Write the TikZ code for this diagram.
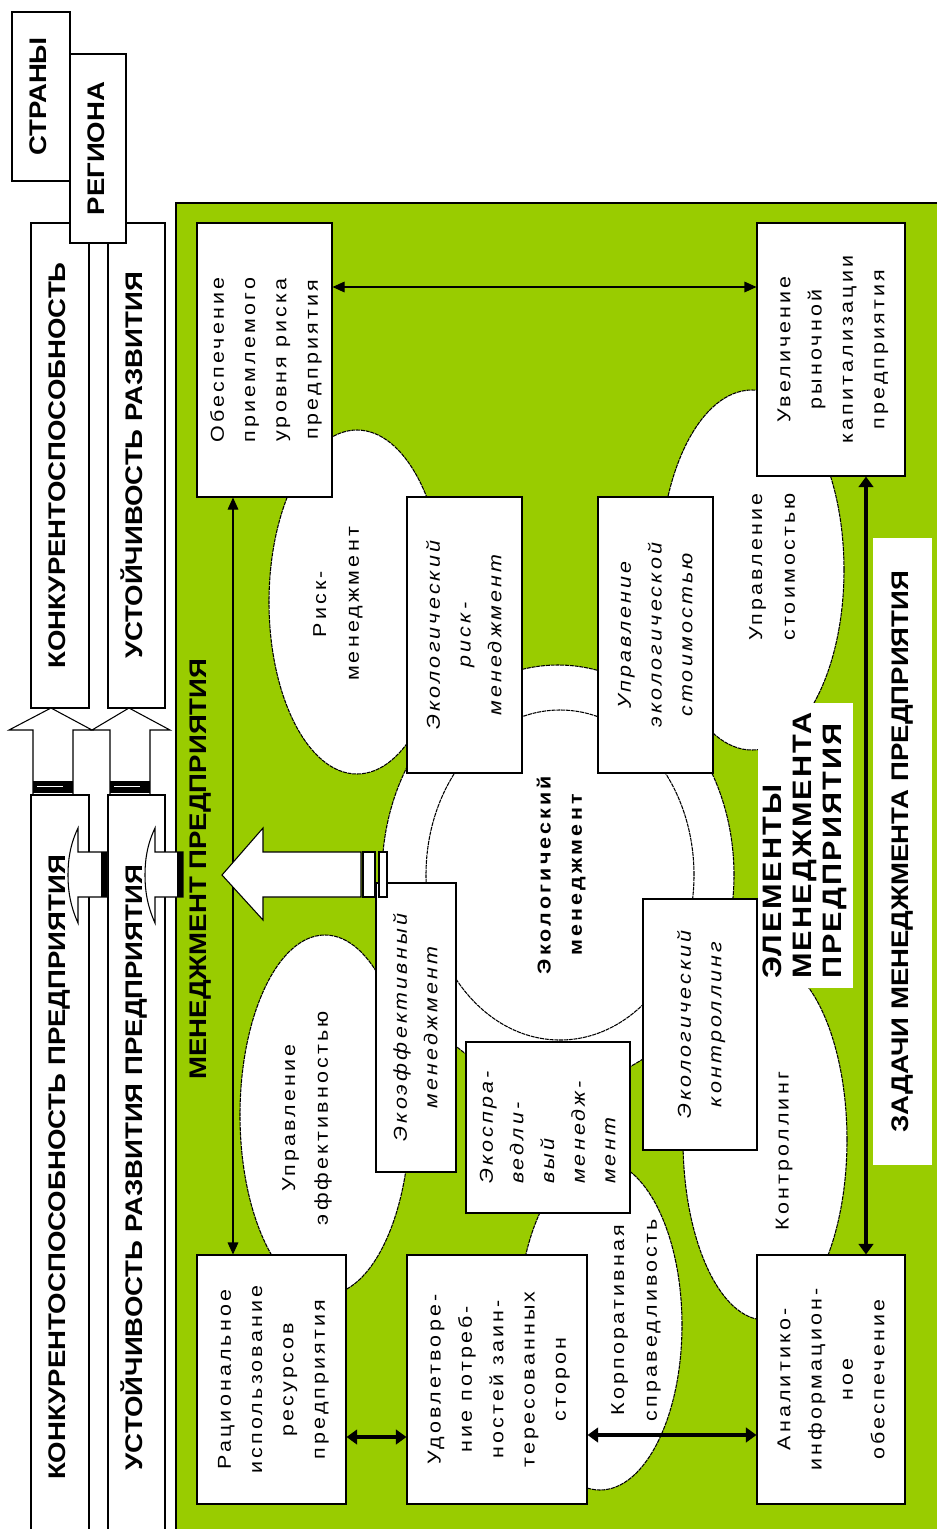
\documentclass[tikz,border=0pt]{standalone}
\usepackage{fontspec}
\setmainfont{Liberation Sans}[FakeStretch=1.15]
\newfontfamily\tracked{Liberation Sans}[FakeStretch=1.15,LetterSpace=17]
\newfontfamily\wide{Liberation Sans}[FakeStretch=1.15,LetterSpace=8]
\usepackage{graphicx}
\usetikzlibrary{positioning,arrows.meta,shapes.geometric}
\definecolor{mgGreen}{RGB}{153,204,0}
\newcommand{\rotc}[1]{\rotatebox{90}{\begin{tabular}{@{}c@{}}#1\end{tabular}}}
\newcommand{\rotl}[1]{\rotatebox{90}{\begin{tabular}{@{}l@{}}#1\end{tabular}}}

\tikzset{
  wh/.style 2 args={minimum width=#1*0.75pt, minimum height=#2*0.75pt},
  box/.style={draw, fill=white, line width=0.8pt, inner sep=0pt,
    font=\tracked\fontsize{14}{23.5}\selectfont},
  ibox/.style={box, font=\tracked\itshape\fontsize{14}{23}\selectfont},
  head/.style={font=\bfseries\fontsize{18}{22.5}\selectfont},
  strip/.style={draw, fill=white, line width=0.8pt, inner sep=0pt, head},
  cloudy/.style={ellipse, draw, fill=white, line width=0.8pt,
    dash pattern=on 3pt off 0.6pt, inner sep=0pt},
  ctext/.style={inner sep=0pt, font=\tracked\fontsize{14}{24.5}\selectfont},
  tag/.style={fill=white, inner sep=0pt, head},
  dblthin/.style={{Triangle[length=9pt,width=8pt]}-{Triangle[length=9pt,width=8pt]}, line width=0.8pt},
  dblthick/.style={{Triangle[length=8pt,width=11pt]}-{Triangle[length=8pt,width=11pt]}, line width=2.6pt},
  blockarr/.style={draw, fill=white, line width=0.8pt},
}

\begin{document}
\begin{tikzpicture}[x=0.75pt, y=-0.75pt]
  \useasboundingbox (0,0) rectangle (937,1529);
  \clip (0,0) rectangle (937,1529);

  % green management field
  \draw[fill=mgGreen, line width=0.9pt] (176,203) rectangle (945,1540);

  % clouds of management functions
  \node[cloudy, wh={176}{344}] (riskc) at (357,602) {};
  \node[cloudy, wh={184}{360}] (stoimc) at (752,570) {};
  \node[cloudy, wh={170}{360}] (effc) at (325,1115) {};
  \node[cloudy, wh={164}{330}] (korpc) at (600,1325) {};
  \node[cloudy, wh={164}{360}] (kontrc) at (765,1140) {};

  \node[ctext] (riskt) at (336,604) {\rotc{Риск-\\менеджмент}};
  \node[ctext] (stoimt) at (772,567) {\rotc{Управление\\стоимостью}};
  \node[ctext] (efft) at (305,1118) {\rotc{Управление\\эффективностью}};
  \node[ctext] (korpt) at (634,1320) {\rotc{Корпоративная\\справедливость}};
  \node[ctext] (kontrt) at (782,1151) {\rotc{Контроллинг}};

  % ring and core
  \node[cloudy, wh={352}{420}] (ring) at (558,875) {};
  \node[cloudy, wh={268}{330},
    font=\tracked\bfseries\fontsize{14}{23.5}\selectfont] (eco) at (560,875)
    {\rotc{Экологический\\менеджмент}};

  % tasks
  \node[box, wh={135}{274}] (obesp) at (264.5,360) {\rotc{Обеспечение\\приемлемого\\уровня риска\\предприятия}};
  \node[box, wh={148}{253}] (uvel) at (831,349.5) {\rotc{Увеличение\\рыночной\\капитализации\\предприятия}};
  \node[box, wh={149}{249}] (racio) at (271.5,1379.5) {\rotc{Рациональное\\использование\\ресурсов\\предприятия}};
  \node[box, wh={180}{249}] (udov) at (497,1379.5) {\rotc{Удовлетворе-\\ние потреб-\\ностей заин-\\тересованных\\сторон}};
  \node[box, wh={148}{249}] (anal) at (831,1379.5) {\rotc{Аналитико-\\информацион-\\ное\\обеспечение}};

  % ecological elements
  \node[ibox, wh={115}{276}] (ekrisk) at (464.5,635) {\rotc{Экологический\\риск-\\менеджмент}};
  \node[ibox, wh={115}{276}] (ekstoim) at (655.5,635) {\rotc{Управление\\экологической\\стоимостью}};
  \node[ibox, wh={80}{289}] (ekeff) at (416,1027.5) {\rotc{Экоэффективный\\менеджмент}};
  \node[ibox, wh={164}{171}] (eksprav) at (548,1127.5) {\rotl{Экоспра-\\ведли-\\вый\\менедж-\\мент}};
  \node[ibox, wh={114}{251}] (ekkontr) at (700,1024.5) {\rotc{Экологический\\контроллинг}};

  % captions
  \node[tag, wh={95}{285}, font=\wide\bfseries\fontsize{20}{22.5}\selectfont] (elem) at (805.5,845.5)
    {\rotl{ЭЛЕМЕНТЫ\\МЕНЕДЖМЕНТА\\ПРЕДПРИЯТИЯ}};
  \node[tag, wh={59}{627}] (zadachi) at (902.5,851.5) {\rotc{ЗАДАЧИ МЕНЕДЖМЕНТА ПРЕДПРИЯТИЯ}};
  \node[head, inner sep=0pt] (mgmt) at (200,869) {\rotc{МЕНЕДЖМЕНТ ПРЕДПРИЯТИЯ}};

  % links between tasks
  \draw[dblthin] (obesp.east |- 0,287) -- (uvel.west |- 0,287);
  \draw[dblthin] (obesp.south -| 233,0) -- (racio.north -| 233,0);
  \draw[dblthick] (uvel.south -| 866,0) -- (anal.north -| 866,0);
  \draw[dblthick] (racio.east |- 0,1437) -- (udov.west |- 0,1437);
  \draw[dblthick] (udov.east |- 0,1435) -- (anal.west |- 0,1435);

  % big arrow out of the core
  \draw[blockarr] (222,875) -- (263,828) -- (263,852) -- (361,852) -- (361,897)
    -- (263,897) -- (263,920) -- cycle;
  \draw[blockarr] (363,852) rectangle (375,897);
  \draw[blockarr] (379,852) rectangle (387,897);

  % country / region level
  \node[strip, wh={58}{485}] (konk) at (60,465.5) {\rotc{КОНКУРЕНТОСПОСОБНОСТЬ}};
  \node[strip, wh={57}{485}] (ust) at (136.5,465.5) {\rotc{УСТОЙЧИВОСТЬ РАЗВИТИЯ}};
  \node[strip, wh={58}{169}] (strana) at (41,96.5) {\rotc{СТРАНЫ}};
  \node[strip, wh={56}{189}] (region) at (98,148.5) {\rotc{РЕГИОНА}};

  % up arrows
  \foreach \xa/\xb/\xl/\xr/\xt in {33/73/9/92/51, 110/150/92/170/129} {
    \draw[blockarr] (\xa,795) -- (\xa,730) -- (\xl,730) -- (\xt,708) -- (\xr,730)
      -- (\xb,730) -- (\xb,795);
    \fill (\xa,781) rectangle (\xb,793);
    \draw[white, line width=0.6pt] (\xa+4,786) -- (\xb-10,786);
  }

  % enterprise level
  \node[strip, wh={58}{745}] (konkp) at (60,1167.5) {\rotc{КОНКУРЕНТОСПОСОБНОСТЬ ПРЕДПРИЯТИЯ}};
  \node[strip, wh={57}{745}] (ustp) at (136.5,1167.5) {\rotc{УСТОЙЧИВОСТЬ РАЗВИТИЯ ПРЕДПРИЯТИЯ}};

  % small arrows into the strips
  \foreach \xs/\xh/\xt in {107/78/68, 183/155/145} {
    \draw[blockarr] (\xs,852) -- (\xh,852) -- (\xh,828)
      .. controls (\xt+2,845) and (\xt,860) .. (\xt,875)
      .. controls (\xt,890) and (\xt+2,905) .. (\xh,923)
      -- (\xh,897) -- (\xs,897) -- cycle;
    \fill (\xs-6,852) rectangle (\xs,897);
  }
\end{tikzpicture}
\end{document}
